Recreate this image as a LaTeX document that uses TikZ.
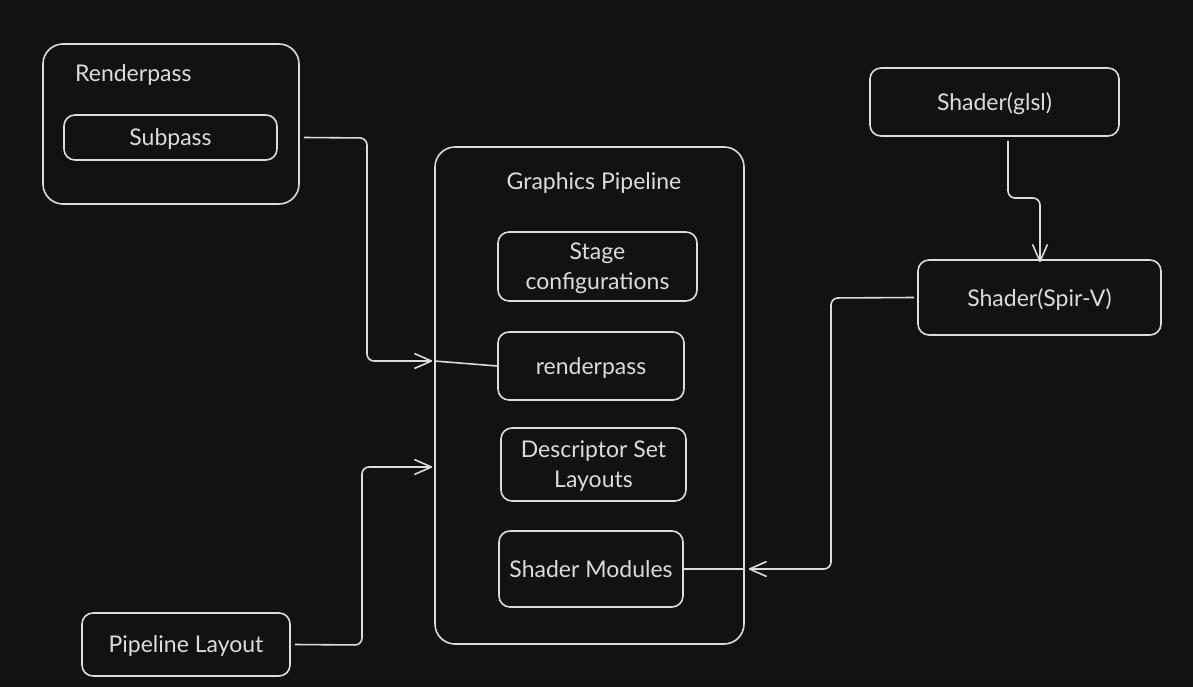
\documentclass[tikz,border=0pt]{standalone}
\usepackage{fontspec}
\setmainfont{Lato}
\usetikzlibrary{arrows.meta,positioning}
\definecolor{bgcol}{HTML}{121212}
\definecolor{ink}{HTML}{DCDCDC}
\tikzset{
  box/.style={draw=ink,line width=1.6pt,rounded corners=11pt,text=ink,
    font=\fontsize{23}{30}\selectfont,align=center,inner sep=0pt,text depth=0pt},
  frame/.style={draw=ink,line width=1.6pt,rounded corners=20pt,inner sep=0pt},
  ttl/.style={text=ink,font=\fontsize{23}{30}\selectfont,inner sep=0pt},
  link/.style={draw=ink,line width=1.6pt,rounded corners=7pt,line join=round}
}

\begin{document}
\begin{tikzpicture}[x=1pt,y=-1pt,>={Straight Barb[length=17pt,width=15pt,line join=round]}]
      \fill[bgcol] (0,0) rectangle (1193,687);
      \useasboundingbox (0,0) rectangle (1193,687);
      % left side
      \node[frame,minimum width=256,minimum height=160] (rp) at (171,124) {};
      \node[ttl,anchor=west] (rptitle) at (75,75) {Renderpass};
      \node[box,minimum width=213,minimum height=45] (sub) at (170.5,137.5) {Subpass};
      \node[box,minimum width=208,minimum height=63] (pl) at (186,644.5) {Pipeline Layout};
      % pipeline
      \node[frame,minimum width=309,minimum height=497] (gp) at (589.5,395.5) {};
      \node[ttl] (gptitle) at (594,183) {Graphics Pipeline};
      \node[box,minimum width=199,minimum height=69] (stage) at (597.5,266.5) {Stage\\configurations};
      \node[box,minimum width=186,minimum height=68] (rpass) at (591,366) {renderpass};
      \node[box,minimum width=185,minimum height=73] (dsl) at (593.5,464.5) {Descriptor Set\\Layouts};
      \node[box,minimum width=184,minimum height=76] (sm) at (591,569) {Shader Modules};
      % shaders
      \node[box,minimum width=249,minimum height=68] (glsl) at (994.5,102) {Shader(glsl)};
      \node[box,minimum width=243,minimum height=75] (spirv) at (1039.5,297.5) {Shader(Spir-V)};
      % free ends on the pipeline frame
      \coordinate (rpin) at (gp.west |- 0,361);
      \coordinate (plin) at (gp.west |- 0,467);
      \coordinate (smin) at (gp.east |- sm.east);
      \draw[link,->] ([xshift=4]rp.east |- sub.east) -- (367,138) -- (367,361) -- ([xshift=-2]rpin);
      \draw[link] (rpass.west) -- (rpin);
      \draw[link,->] ([xshift=4]pl.east) -- (362,645) -- (362,467) -- ([xshift=-2]plin);
      \draw[link,->] (1008,141) -- (1008,198) -- (1040,198) -- ([yshift=-3]spirv.north -| 1040,0);
      \draw[link,->] ([xshift=-3]spirv.west) -- (831,298) -- (831,569) -- ([xshift=4]smin);
      \draw[link] (sm.east) -- (smin);
    \end{tikzpicture}
\end{document}
